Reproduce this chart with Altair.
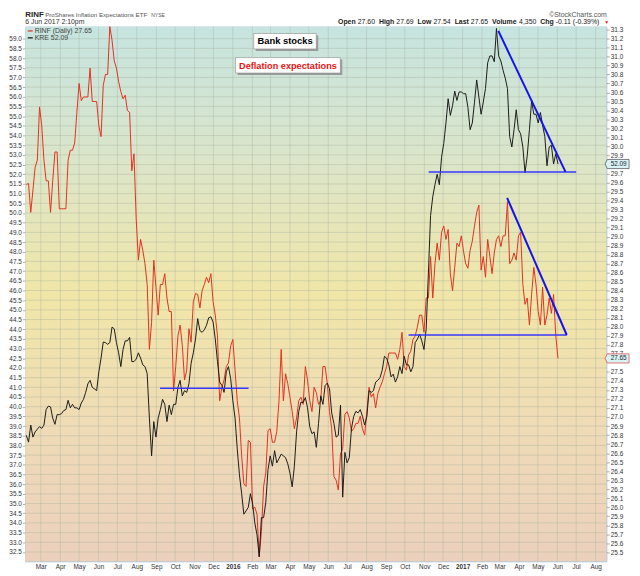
import altair as alt
import pandas as pd

FONT = "Liberation Sans"

# ---------------- data ----------------
# values on Fridays (…_fri) and midway between them (…_mid), 6 Feb 2015 .. 2 Jun 2017
rinf_fri = [29.58, 29.27, 29.77, 30.44, 29.85, 29.62, 29.62, 29.94, 29.31, 29.31,
            29.96, 30.04, 30.70, 30.55, 30.55, 30.50, 30.50, 30.11, 30.80, 31.33,
            30.95, 30.72, 30.53, 30.40, 29.73, 29.20, 28.97, 28.70, 27.75, 28.74,
            28.13, 28.47, 28.32, 28.17, 27.56, 28.02, 27.41, 27.98, 28.28, 28.36,
            28.40, 28.55, 28.59, 28.13, 27.18, 27.41, 27.60, 27.86, 27.18, 26.57,
            26.23, 26.72, 26.00, 25.45, 26.23, 26.85, 26.72, 26.84, 27.75, 27.48,
            27.22, 26.87, 27.18, 27.14, 27.41, 27.06, 27.27, 27.18, 27.56, 27.06,
            26.34, 26.19, 26.65, 27.06, 26.84, 26.93, 27.01, 26.80, 27.33, 27.26,
            27.26, 27.39, 27.56, 27.71, 27.71, 27.75, 27.56, 27.69, 27.86, 28.00,
            28.13, 28.32, 28.78, 28.70, 28.74, 29.12, 29.08, 28.40, 28.93, 29.01,
            28.70, 28.85, 29.12, 29.35, 28.78, 28.97, 28.59, 28.97, 28.89, 29.01,
            28.70, 28.82, 29.01, 28.47, 28.32, 28.36, 28.47, 28.02, 28.02, 28.32,
            28.36, 27.65]
rinf_mid = [29.59, 29.52, 29.85, 30.23, 29.62, 29.27, 29.94, 29.31, 29.31, 29.85,
            29.96, 30.38, 30.51, 30.55, 30.87, 30.50, 30.23, 30.68, 30.80, 31.18,
            30.87, 30.61, 30.57, 30.38, 29.92, 28.74, 28.85, 28.47, 28.05, 28.44,
            28.47, 28.59, 28.17, 27.29, 27.90, 27.79, 27.52, 27.83, 28.37, 28.21,
            28.47, 28.49, 28.28, 27.90, 27.33, 27.56, 27.79, 27.52, 26.99, 26.26,
            26.74, 25.98, 25.92, 25.73, 26.38, 26.87, 26.72, 27.18, 27.18, 27.37,
            27.06, 26.99, 27.22, 27.56, 27.18, 27.33, 27.14, 27.56, 27.37, 26.87,
            26.30, 26.59, 27.03, 26.99, 26.87, 26.93, 26.87, 27.06, 27.22, 27.10,
            27.33, 27.48, 27.71, 27.71, 27.64, 27.94, 27.52, 27.73, 27.90, 28.13,
            27.94, 28.32, 28.32, 28.93, 29.05, 28.97, 28.59, 28.66, 28.89, 28.84,
            28.65, 28.95, 29.27, 28.63, 28.55, 28.78, 28.82, 29.01, 29.01, 29.39,
            28.74, 28.74, 29.05, 28.25, 28.02, 28.66, 28.17, 28.44, 28.13, 28.15,
            27.90]

kre_fri = [38.52, 39.05, 38.70, 38.97, 39.05, 40.03, 39.41, 39.59, 39.64, 39.85,
           39.94, 39.94, 39.85, 40.38, 41.18, 41.00, 40.83, 42.51, 43.31, 43.31,
           44.02, 42.78, 42.95, 43.40, 42.33, 42.46, 42.51, 42.07, 39.41, 39.23,
           39.41, 40.38, 39.23, 39.59, 40.12, 41.36, 40.83, 41.18, 42.78, 44.55,
           43.84, 44.20, 44.64, 43.49, 41.27, 40.74, 42.07, 40.30, 37.81, 35.51,
           34.62, 35.51, 34.00, 32.25, 34.27, 36.75, 36.93, 37.10, 37.55, 37.37,
           36.57, 36.93, 39.76, 40.21, 39.94, 38.61, 37.90, 40.56, 41.09, 40.92,
           39.14, 38.52, 35.33, 37.10, 38.88, 39.76, 39.85, 39.05, 40.83, 40.83,
           41.36, 41.89, 42.51, 41.54, 41.27, 42.07, 42.60, 42.16, 42.07, 43.49,
           43.40, 44.02, 49.87, 51.46, 51.46, 53.59, 55.90, 55.54, 55.81, 56.25,
           56.16, 54.30, 55.72, 55.98, 55.72, 57.76, 58.11, 59.53, 57.85, 56.96,
           53.95, 54.30, 54.30, 53.41, 52.95, 55.81, 55.10, 55.19, 53.95, 53.41,
           52.53, 52.53]
kre_mid = [38.17, 38.43, 38.84, 38.88, 39.85, 39.99, 39.09, 39.59, 39.80, 40.33,
           40.12, 39.94, 40.19, 40.74, 41.36, 40.92, 41.80, 43.34, 43.22, 44.11,
           43.31, 42.07, 43.40, 43.58, 42.33, 42.78, 42.16, 41.71, 37.46, 38.43,
           39.85, 40.12, 40.08, 40.12, 41.00, 40.56, 40.74, 42.25, 43.49, 43.93,
           43.97, 44.59, 44.37, 42.33, 41.10, 41.80, 41.45, 39.41, 36.48, 34.45,
           34.80, 34.98, 33.38, 34.27, 35.07, 37.46, 37.73, 37.32, 37.46, 37.05,
           35.86, 38.70, 40.24, 40.47, 38.97, 38.70, 39.14, 40.12, 41.22, 39.68,
           38.43, 40.08, 37.64, 37.37, 39.50, 39.68, 39.50, 39.50, 40.74, 41.27,
           41.50, 42.60, 42.16, 41.68, 41.54, 41.71, 42.16, 41.80, 43.31, 43.75,
           42.95, 46.85, 50.84, 52.00, 52.88, 54.65, 55.04, 56.29, 56.25, 56.16,
           55.45, 54.65, 56.87, 55.10, 56.43, 58.11, 57.81, 58.11, 57.37, 56.43,
           53.41, 55.33, 54.09, 52.08, 54.30, 55.10, 54.65, 54.53, 52.44, 53.50,
           53.06]


def interleave(a, b):
    out = []
    for i, v in enumerate(a):
        out.append(v)
        if i < len(b):
            out.append(b[i])
    return out


rinf = interleave(rinf_fri, rinf_mid)
kre = interleave(kre_fri, kre_mid)
dates = list(pd.date_range("2015-02-06", periods=len(rinf), freq="84h"))

# hand-drawn trend lines (start/end points)
kre_h_dates = ["2015-09-07", "2016-01-26", "2016-11-08", "2017-07-01"]
kre_h_vals = [40.95, 40.95, 52.12, 52.12]
kre_h_seg = ["a", "a", "b", "b"]
kre_d_dates = ["2017-02-27", "2017-06-14"]
kre_d_vals = [59.40, 52.12]
rinf_h_dates = ["2016-10-07", "2017-06-16"]
rinf_h_vals = [27.91, 27.91]
rinf_d_dates = ["2017-03-13", "2017-06-16"]
rinf_d_vals = [29.43, 27.91]

kre_ticks = [round(32.5 + 0.5 * i, 1) for i in range(54)]
# right-axis labels; 29.8 and 27.6 sit under the last-value tags
rinf_ticks = [v for v in (round(25.5 + 0.1 * i, 1) for i in range(59)) if v not in (29.8, 27.6)]
month_starts = list(pd.date_range("2015-03-01", "2017-08-01", freq="MS"))

# ---------------- layout ----------------
W, H = 588, 541
one = pd.DataFrame({"a": [0]})

xscale = alt.Scale(domain=[alt.DateTime(year=2015, month=2, date=4, hours=7),
                           alt.DateTime(year=2017, month=8, date=18)])
kre_scale = alt.Scale(domain=[32.02, 59.62], nice=False, zero=False)
rinf_scale = alt.Scale(domain=[25.40, 31.33], nice=False, zero=False)

xaxis = alt.Axis(
    values=[alt.DateTime(year=d.year, month=d.month, date=1) for d in month_starts],
    labelExpr="month(datum.value) == 0 ? timeFormat(datum.value, '%Y') : timeFormat(datum.value, '%b')",
    labelFontWeight={"condition": {"test": "month(datum.value) == 0", "value": "bold"}, "value": "normal"},
    labelFontSize=6.5, labelColor="#333", labelFont=FONT, labelPadding=2,
    grid=False, ticks=False, domain=False, title=None, labelOverlap=False, labelFlush=False)


def X(field="date"):
    return alt.X(f"{field}:T", scale=xscale, axis=xaxis)


def yaxis(orient, values):
    return alt.Axis(orient=orient, values=values, format=".1f", labelFontSize=6.5,
                    labelColor="#333", labelFont=FONT, tickSize=3, tickColor="#777",
                    tickWidth=0.6, labelPadding=1, domain=False, grid=False,
                    title=None, labelOverlap=False)


df = pd.DataFrame({"date": dates, "rinf": rinf, "kre": kre})

bg = alt.Chart(one).mark_rect(color={
    "gradient": "linear", "x1": 0, "y1": 0, "x2": 0, "y2": 1,
    "stops": [{"offset": 0, "color": "#c6e4e0"},
              {"offset": 0.25, "color": "#dbe5c9"},
              {"offset": 0.5, "color": "#f1e6a8"},
              {"offset": 0.75, "color": "#efdbb6"},
              {"offset": 1, "color": "#ebd0bc"}]}).encode(
    x=alt.value(0), x2=alt.value(W), y=alt.value(0), y2=alt.value(H))

vgrid = alt.Chart(pd.DataFrame({"date": month_starts})).mark_rule(
    color="#aab3a0", strokeWidth=0.6, opacity=0.7).encode(x=X())

hgrid = alt.Chart(pd.DataFrame({"v": kre_ticks})).mark_rule(
    color="#aab3a0", strokeWidth=0.6, opacity=0.7).encode(
    y=alt.Y("v:Q", scale=kre_scale, axis=None))

rinf_line = alt.Chart(df).mark_line(color="#e3301e", strokeWidth=1).encode(
    x=X(), y=alt.Y("rinf:Q", scale=rinf_scale, axis=yaxis("right", rinf_ticks)))

kre_line = alt.Chart(df).mark_line(color="#1a1a1a", strokeWidth=1).encode(
    x=X(), y=alt.Y("kre:Q", scale=kre_scale, axis=yaxis("left", kre_ticks)))

kre_h = alt.Chart(pd.DataFrame({"date": pd.to_datetime(kre_h_dates), "v": kre_h_vals, "s": kre_h_seg})).mark_line(
    color="#3636ff", strokeWidth=1.5).encode(x=X(), y=alt.Y("v:Q", scale=kre_scale, axis=None), detail="s:N")
kre_d = alt.Chart(pd.DataFrame({"date": pd.to_datetime(kre_d_dates), "v": kre_d_vals})).mark_line(
    color="#1414e8", strokeWidth=2).encode(x=X(), y=alt.Y("v:Q", scale=kre_scale, axis=None))
rinf_h = alt.Chart(pd.DataFrame({"date": pd.to_datetime(rinf_h_dates), "v": rinf_h_vals})).mark_line(
    color="#3636ff", strokeWidth=1.5).encode(x=X(), y=alt.Y("v:Q", scale=rinf_scale, axis=None))
rinf_d = alt.Chart(pd.DataFrame({"date": pd.to_datetime(rinf_d_dates), "v": rinf_d_vals})).mark_line(
    color="#1414e8", strokeWidth=2).encode(x=X(), y=alt.Y("v:Q", scale=rinf_scale, axis=None))


def box(x1, x2, y1, y2):
    shadow = alt.Chart(one).mark_rect(color="#9c9c9c").encode(
        x=alt.value(x1 + 2), x2=alt.value(x2 + 2), y=alt.value(y1 + 2), y2=alt.value(y2 + 2))
    face = alt.Chart(one).mark_rect(fill="white", stroke="#8a8a8a", strokeWidth=0.6).encode(
        x=alt.value(x1), x2=alt.value(x2), y=alt.value(y1), y2=alt.value(y2))
    return [shadow, face]


def txt(s, x, y, size=7, weight="normal", color="#333", align="left", baseline="alphabetic"):
    return alt.Chart(one).mark_text(text=s, fontSize=size, fontWeight=weight, color=color,
                                    align=align, baseline=baseline, font=FONT).encode(
        x=alt.value(x), y=alt.value(y))


annotations = box(231.2, 294.5, 6.9, 22.5) + [
    txt("Bank stocks", 262.9, 15.0, size=9.5, weight="bold", color="#000", align="center", baseline="middle")]
annotations += box(212.8, 318.8, 31.3, 46.9) + [
    txt("Deflation expectations", 265.8, 39.4, size=9.3, weight="bold", color="#ee1111", align="center", baseline="middle")]

legend = [
    alt.Chart(one).mark_rule(color="#e3301e", strokeWidth=1.2).encode(x=alt.value(2.5), x2=alt.value(7.5), y=alt.value(4.3)),
    txt("RINF (Daily) 27.65", 9.5, 4.5, size=7, color="#444", baseline="middle"),
    alt.Chart(one).mark_rule(color="#111", strokeWidth=1.2).encode(x=alt.value(2.5), x2=alt.value(7.5), y=alt.value(11.3)),
    txt("KRE 52.09", 9.5, 11.5, size=7, color="#444", baseline="middle"),
]

TAG = "M-1.2,0L-1,-0.42L1,-0.42L1,0.42L-1,0.42Z"
kre_end = pd.DataFrame({"v": [kre[-1]], "label": ["52.09"]})
rinf_end = pd.DataFrame({"v": [rinf[-1]], "label": ["27.65"]})
end_tags = [
    alt.Chart(kre_end).mark_point(shape=TAG, size=484, filled=True, fill="#d9f3f4", stroke="#445", strokeWidth=0.7, opacity=1).encode(
        x=alt.value(600), y=alt.Y("v:Q", scale=kre_scale, axis=None)),
    alt.Chart(kre_end).mark_text(fontSize=6.5, color="#223", font=FONT).encode(
        x=alt.value(600.5), y=alt.Y("v:Q", scale=kre_scale, axis=None), text="label:N"),
    alt.Chart(rinf_end).mark_point(shape=TAG, size=484, filled=True, fill="#d9f3f4", stroke="#e05050", strokeWidth=0.8, opacity=1).encode(
        x=alt.value(600), y=alt.Y("v:Q", scale=rinf_scale, axis=None)),
    alt.Chart(rinf_end).mark_text(fontSize=6.5, color="#223", font=FONT).encode(
        x=alt.value(600.5), y=alt.Y("v:Q", scale=rinf_scale, axis=None), text="label:N"),
]

R1, R2 = -9.5, -2.5
header = [
    txt("RINF", 0, R1, size=8, weight="bold", color="#222"),
    txt("ProShares Inflation Expectations ETF", 20.2, R1, size=6.2, color="#555"),
    txt("NYSE", 127.5, R1, size=5, color="#555"),
    txt("\u00a9StockCharts.com", 588.5, R1, size=7, color="#555", align="right"),
    txt("6 Jun 2017 2:10pm", 0, R2, size=7, color="#333"),
]
pieces = [("Open", 316.5, True), ("27.60", 336.4, False), ("High", 357.9, True), ("27.69", 375.5, False),
          ("Low", 397.0, True), ("27.54", 413.0, False), ("Last", 434.5, True), ("27.65", 450.9, False),
          ("Volume", 472.4, True), ("4,350", 499.7, False), ("Chg", 521.2, True), ("-0.11 (-0.39%)", 536.8, False)]
for s, x, b in pieces:
    header.append(txt(s, x, R2, size=7, weight="bold" if b else "normal", color="#222"))
header.append(txt("\u25bc", 585.9, R2, size=5, color="#dd2222"))

chart = alt.layer(
    bg, vgrid, hgrid, rinf_line, kre_line, kre_h, kre_d, rinf_h, rinf_d,
    *annotations, *legend, *end_tags, *header
).resolve_scale(y="independent").properties(
    width=W, height=H,
    autosize=alt.AutoSizeParams(type="none"),
    padding={"left": 17.5, "top": 15.5, "right": 26, "bottom": 10},
).configure_view(stroke="#9fb6c6", strokeWidth=1)

chart.save("out.html", embed_options={"renderer": "svg", "actions": False})
